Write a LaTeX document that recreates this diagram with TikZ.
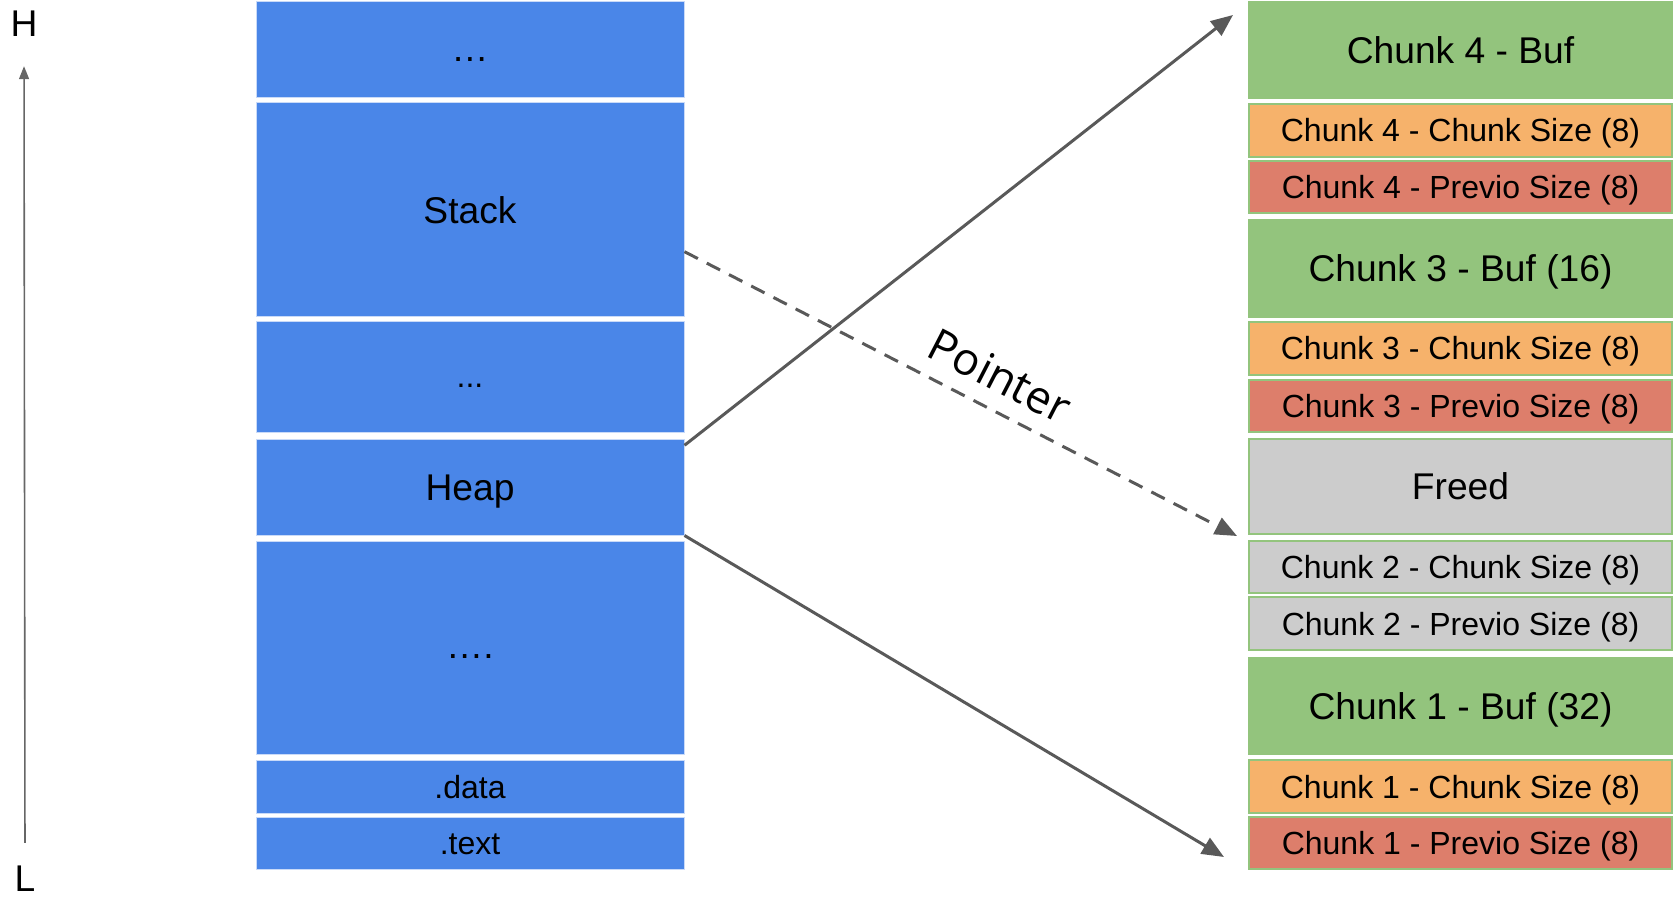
\documentclass[tikz,border=0pt]{standalone}
\usepackage{fontspec}
\setmainfont{Liberation Sans}
\newfontfamily\labelfont{Open Sans}
\usetikzlibrary{arrows.meta,positioning}

\definecolor{segblue}{HTML}{4A86E8}
\definecolor{segedge}{HTML}{C9DAF8}
\definecolor{bufgreen}{HTML}{93C47D}
\definecolor{sizeorange}{HTML}{F6B26B}
\definecolor{prevred}{HTML}{DD7E6B}
\definecolor{freedgray}{HTML}{CCCCCC}
\definecolor{linkgray}{HTML}{595959}
\definecolor{axisgray}{HTML}{666666}

\begin{document}
\begin{tikzpicture}[x=0.5pt,y=-0.5pt]

\tikzset{
  axislabel/.style={font=\fontsize{18.6}{22}\selectfont, inner sep=0pt},
  bigtext/.style={font=\fontsize{18.6}{22}\selectfont,
                  text height=17pt, text depth=3.7pt},
  smalltext/.style={font=\fontsize{16}{19}\selectfont,
                    text height=14.5pt, text depth=3pt},
  dotstext/.style={text height=15pt, text depth=3.7pt},
  segment/.style={fill=segblue, draw=segedge, line width=0.5pt,
                  minimum width=214pt, inner sep=0pt, bigtext},
  chunk/.style={draw=bufgreen, line width=0.6pt,
                minimum width=211.5pt, inner sep=0pt, bigtext},
  buf/.style={chunk, fill=bufgreen},
  csize/.style={chunk, fill=sizeorange, smalltext},
  psize/.style={chunk, fill=prevred, smalltext},
  freed/.style={chunk, fill=freedgray},
  link/.style={linkgray, line width=1.5pt,
               -{Triangle[length=11pt, width=9pt]}},
  pointer/.style={link, dash pattern=on 7.5pt off 5pt},
  axis/.style={axisgray, line width=0.8pt,
               -{Triangle[length=6.5pt, width=5pt]}}
}

\useasboundingbox (0,0) rectangle (1673,897);

% Address axis
\node[axislabel] (H) at (24,24) {H};
\node[axislabel] (L) at (25,879) {L};
\draw[axis, shorten <=11.5pt, shorten >=14.5pt] (L.north) -- (H.south);

% Memory layout
\node[segment, minimum height=48pt, dotstext] (top) at (470,50) {…};
\node[segment, minimum height=107pt]   (stack) at (470,210)   {Stack};
\node[segment, minimum height=55pt, smalltext, text height=14pt] (mid) at (470,377) {...};
\node[segment, minimum height=48pt]    (heap)  at (470,487)   {Heap};
\node[segment, minimum height=106.5pt, dotstext] (low) at (470,647.5) {….};
\node[segment, minimum height=26.5pt, smalltext] (data) at (470,786.5) {.data};
\node[segment, minimum height=26pt, smalltext]   (text) at (470,843)   {.text};

% Heap chunks
\node[buf,   minimum height=48pt]   (c4buf)  at (1460.5,50)    {Chunk 4 - Buf};
\node[csize, minimum height=26.5pt] (c4size) at (1460.5,130.5) {Chunk 4 - Chunk Size (8)};
\node[psize, minimum height=26pt]   (c4prev) at (1460.5,187)   {Chunk 4 - Previo Size (8)};
\node[buf,   minimum height=48.5pt] (c3buf)  at (1460.5,268.5) {Chunk 3 - Buf (16)};
\node[csize, minimum height=26.5pt] (c3size) at (1460.5,348.5) {Chunk 3 - Chunk Size (8)};
\node[psize, minimum height=26pt]   (c3prev) at (1460.5,406)   {Chunk 3 - Previo Size (8)};
\node[freed, minimum height=47.5pt] (c2free) at (1460.5,486.5) {Freed};
\node[freed, minimum height=26pt, smalltext]   (c2size) at (1460.5,567)   {Chunk 2 - Chunk Size (8)};
\node[freed, minimum height=26.5pt, smalltext] (c2prev) at (1460.5,623.5) {Chunk 2 - Previo Size (8)};
\node[buf,   minimum height=48pt]   (c1buf)  at (1460.5,706)   {Chunk 1 - Buf (32)};
\node[csize, minimum height=26.5pt] (c1size) at (1460.5,786.5) {Chunk 1 - Chunk Size (8)};
\node[psize, minimum height=26pt]   (c1prev) at (1460.5,843)   {Chunk 1 - Previo Size (8)};

% Arrow ends
\coordinate (buftip)   at (1233,15);
\coordinate (freedtip) at (1237,536);
\coordinate (prevtip)  at (1224,857);

% Arrows
\draw[link] (heap.11.6) -- (buftip);
\draw[link] (heap.south east) -- (prevtip);
\draw[pointer] (stack.-11.4) -- node[pos=0.543, sloped, above=8pt, inner sep=0pt,
  font=\labelfont\fontsize{22.5}{26}\selectfont, text=black] {Pointer} (freedtip);

\end{tikzpicture}
\end{document}
